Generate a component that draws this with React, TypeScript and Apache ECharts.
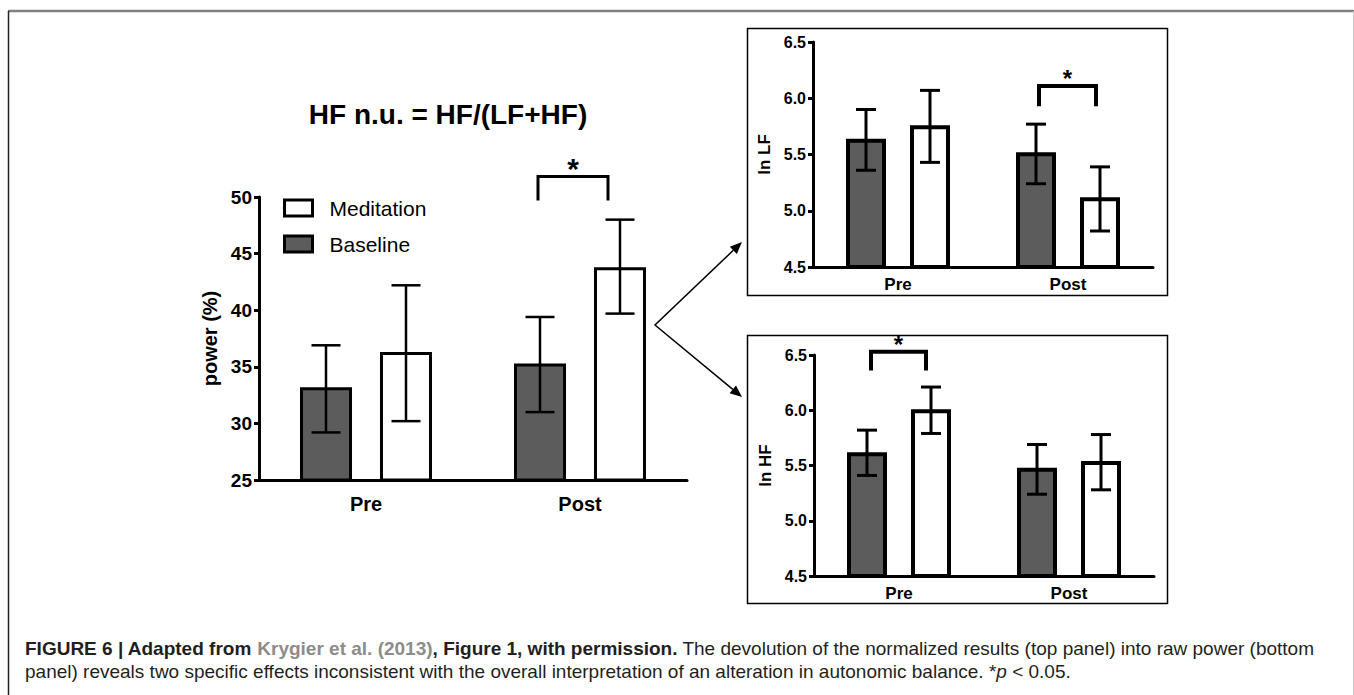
import React, { useEffect, useRef } from "react";
import * as echarts from "echarts";

// ---------- data ----------
const categories = ["Pre", "Post"];

// main panel: HF n.u. (power %)
const hfnuBaseline = [33.2, 35.3];
const hfnuBaselineLow = [29.2, 31.0];
const hfnuBaselineHigh = [36.9, 39.4];
const hfnuMeditation = [36.3, 43.8];
const hfnuMeditationLow = [30.2, 39.7];
const hfnuMeditationHigh = [42.2, 48.0];
const hfnuTicks = [25, 30, 35, 40, 45, 50];
// significance bracket: [category index, bracket top, bracket leg bottom]
const hfnuSig = [[1, 51.8, 49.7]];

// top right panel: ln LF
const lnLfBaseline = [5.64, 5.52];
const lnLfBaselineLow = [5.36, 5.24];
const lnLfBaselineHigh = [5.9, 5.77];
const lnLfMeditation = [5.76, 5.12];
const lnLfMeditationLow = [5.43, 4.82];
const lnLfMeditationHigh = [6.07, 5.39];
const lnLfSig = [[1, 6.11, 5.93]];

// bottom right panel: ln HF
const lnHfBaseline = [5.62, 5.48];
const lnHfBaselineLow = [5.41, 5.24];
const lnHfBaselineHigh = [5.82, 5.69];
const lnHfMeditation = [6.01, 5.54];
const lnHfMeditationLow = [5.79, 5.28];
const lnHfMeditationHigh = [6.21, 5.78];
const lnHfSig = [[0, 6.53, 6.36]];
const lnTicks = ["4.5", "5.0", "5.5", "6.0", "6.5"];

const seriesNames = ["Baseline", "Meditation"];
const legendOrder = ["Meditation", "Baseline"];

const titleText = "HF n.u. = HF/(LF+HF)";

// ---------- helpers ----------
const FONT = "'Liberation Sans', Arial, Helvetica, sans-serif";
const BASE_FILL = "#5c5c5c";

type PanelCfg = {
  grid: number;
  base: number[];
  baseLo: number[];
  baseHi: number[];
  med: number[];
  medLo: number[];
  medHi: number[];
  sig: number[][];
  barWidth: number;
  barGap: string;
  border: number;
  offset: number;
  cap: number;
  errWidth: number;
  sigL: number;
  sigR: number;
  starSize: number;
  starDy: number;
};

function errSeries(cfg: PanelCfg, lo: number[], hi: number[], sign: number) {
  return {
    type: "custom",
    xAxisIndex: cfg.grid,
    yAxisIndex: cfg.grid,
    silent: true,
    clip: false,
    z: 5,
    data: lo.map((l, i) => [i, l, hi[i]]),
    renderItem: (params: any, api: any) => {
      const top = api.coord([api.value(0), api.value(2)]);
      const bot = api.coord([api.value(0), api.value(1)]);
      const x = top[0] + sign * cfg.offset;
      const st = { stroke: "#000", lineWidth: cfg.errWidth };
      return {
        type: "group",
        children: [
          { type: "line", shape: { x1: x, y1: top[1], x2: x, y2: bot[1] }, style: st },
          { type: "line", shape: { x1: x - cfg.cap / 2, y1: top[1], x2: x + cfg.cap / 2, y2: top[1] }, style: st },
          { type: "line", shape: { x1: x - cfg.cap / 2, y1: bot[1], x2: x + cfg.cap / 2, y2: bot[1] }, style: st },
        ],
      };
    },
  };
}

function sigSeries(cfg: PanelCfg) {
  return {
    type: "custom",
    xAxisIndex: cfg.grid,
    yAxisIndex: cfg.grid,
    silent: true,
    clip: false,
    z: 5,
    data: cfg.sig,
    renderItem: (params: any, api: any) => {
      const top = api.coord([api.value(0), api.value(1)]);
      const bot = api.coord([api.value(0), api.value(2)]);
      const xl = top[0] + cfg.sigL;
      const xr = top[0] + cfg.sigR;
      return {
        type: "group",
        children: [
          {
            type: "polyline",
            shape: { points: [[xl, bot[1]], [xl, top[1]], [xr, top[1]], [xr, bot[1]]] },
            style: { stroke: "#000", lineWidth: cfg.border, fill: null },
          },
          {
            type: "text",
            x: (xl + xr) / 2,
            y: top[1] + cfg.starDy,
            style: {
              text: "*",
              fill: "#000",
              font: `bold ${cfg.starSize}px ${FONT}`,
              align: "center",
              verticalAlign: "middle",
            },
          },
        ],
      };
    },
  };
}

function panelSeries(cfg: PanelCfg) {
  const common = {
    type: "bar",
    xAxisIndex: cfg.grid,
    yAxisIndex: cfg.grid,
    barWidth: cfg.barWidth,
    barGap: cfg.barGap,
    silent: true,
  };
  return [
    {
      ...common,
      name: seriesNames[0],
      data: cfg.base,
      itemStyle: { color: BASE_FILL, borderColor: "#000", borderWidth: cfg.border },
    },
    {
      ...common,
      name: seriesNames[1],
      data: cfg.med,
      itemStyle: { color: "#fff", borderColor: "#000", borderWidth: cfg.border },
    },
    errSeries(cfg, cfg.baseLo, cfg.baseHi, -1),
    errSeries(cfg, cfg.medLo, cfg.medHi, 1),
    sigSeries(cfg),
  ];
}

function xAxisCfg(grid: number, fontSize: number, margin: number) {
  return {
    type: "category",
    gridIndex: grid,
    data: categories,
    axisLine: { show: true, lineStyle: { color: "#000", width: 3 } },
    axisTick: { show: false },
    axisLabel: { color: "#000", fontWeight: "bold", fontSize, fontFamily: FONT, margin },
  };
}

function yAxisCfg(
  grid: number,
  min: number,
  max: number,
  interval: number,
  name: string,
  nameSize: number,
  nameGap: number,
  labelSize: number,
  fmt: (v: number) => string
) {
  return {
    type: "value",
    gridIndex: grid,
    min,
    max,
    interval,
    name,
    nameLocation: "middle",
    nameGap,
    nameRotate: 90,
    nameTextStyle: { color: "#000", fontWeight: "bold", fontSize: nameSize, fontFamily: FONT },
    axisLine: { show: true, lineStyle: { color: "#000", width: 3 } },
    axisTick: { show: true, length: 5, lineStyle: { color: "#000", width: 3 } },
    splitLine: { show: false },
    axisLabel: {
      color: "#000",
      fontWeight: "bold",
      fontSize: labelSize,
      fontFamily: FONT,
      margin: 7,
      formatter: fmt,
    },
  };
}

export default function App() {
  const ref = useRef<HTMLDivElement>(null);

  useEffect(() => {
    if (!ref.current) return;
    const chart = echarts.init(ref.current, undefined, { renderer: "svg" });

    const mainCfg: PanelCfg = {
      grid: 0,
      base: hfnuBaseline,
      baseLo: hfnuBaselineLow,
      baseHi: hfnuBaselineHigh,
      med: hfnuMeditation,
      medLo: hfnuMeditationLow,
      medHi: hfnuMeditationHigh,
      sig: hfnuSig,
      barWidth: 52,
      barGap: "53.8%",
      border: 3,
      offset: 40,
      cap: 29,
      errWidth: 2.5,
      sigL: -42,
      sigR: 28,
      starSize: 30,
      starDy: -8,
    };
    const lfCfg: PanelCfg = {
      grid: 1,
      base: lnLfBaseline,
      baseLo: lnLfBaselineLow,
      baseHi: lnLfBaselineHigh,
      med: lnLfMeditation,
      medLo: lnLfMeditationLow,
      medHi: lnLfMeditationHigh,
      sig: lnLfSig,
      barWidth: 40,
      barGap: "60%",
      border: 4,
      offset: 32,
      cap: 20,
      errWidth: 3,
      sigL: -29,
      sigR: 28,
      starSize: 24,
      starDy: -7,
    };
    const hfCfg: PanelCfg = {
      ...lfCfg,
      grid: 2,
      base: lnHfBaseline,
      baseLo: lnHfBaselineLow,
      baseHi: lnHfBaselineHigh,
      med: lnHfMeditation,
      medLo: lnHfMeditationLow,
      medHi: lnHfMeditationHigh,
      sig: lnHfSig,
      sigL: -28,
      sigR: 27,
    };

    const lnFmt = (v: number) => {
      const s = v.toFixed(1);
      return lnTicks.indexOf(s) >= 0 ? s : "";
    };
    const hfFmt = (v: number) => (hfnuTicks.indexOf(v) >= 0 ? String(v) : "");

    const captionText =
      "{b|FIGURE 6 | Adapted from }{g|Krygier et al. (2013)}{b|, Figure 1, with permission.}" +
      "{n| The devolution of the normalized results (top panel) into raw power (bottom}\n" +
      "{n|panel) reveals two specific effects inconsistent with the overall interpretation of an alteration in autonomic balance. *}" +
      "{i|p}{n| < 0.05.}";

    const arrowStyle = { stroke: "#000", lineWidth: 1.5 };
    const CAP_SIZE = 19;

    chart.setOption({
      animation: false,
      backgroundColor: "#fff",
      textStyle: { fontFamily: FONT },
      grid: [
        { left: 259, top: 197, width: 428, height: 283 },
        { left: 813, top: 42, width: 340, height: 225 },
        { left: 814, top: 355, width: 340, height: 221 },
      ],
      legend: {
        data: legendOrder,
        orient: "vertical",
        left: 283,
        top: 197,
        padding: 0,
        itemWidth: 28,
        itemHeight: 16,
        itemGap: 14,
        icon: "rect",
        selectedMode: false,
        itemStyle: { borderColor: "#000", borderWidth: 3 },
        textStyle: {
          color: "#000",
          fontSize: 21,
          fontFamily: FONT,
          lineHeight: 22,
          padding: [0, 0, 0, 12],
        },
      },
      xAxis: [xAxisCfg(0, 20, 14), xAxisCfg(1, 17, 9), xAxisCfg(2, 17, 9)],
      yAxis: [
        yAxisCfg(0, 25, 50, 5, "power (%)", 20, 39, 19, hfFmt),
        yAxisCfg(1, 4.5, 6.5, 0.5, "ln LF", 17, 40, 16, lnFmt),
        yAxisCfg(2, 4.5, 6.5, 0.5, "ln HF", 17, 40, 16, lnFmt),
      ],
      series: [...panelSeries(mainCfg), ...panelSeries(lfCfg), ...panelSeries(hfCfg)],
      graphic: [
        // outer figure frame
        { type: "line", shape: { x1: 8, y1: 11, x2: 1354, y2: 11 }, style: { stroke: "#808080", lineWidth: 2.5 } },
        { type: "line", shape: { x1: 8.5, y1: 11, x2: 8.5, y2: 695 }, style: { stroke: "#222", lineWidth: 1.5 } },
        { type: "line", shape: { x1: 1353.5, y1: 11, x2: 1353.5, y2: 695 }, style: { stroke: "#c8c8c8", lineWidth: 1 } },
        // panel boxes
        { type: "rect", shape: { x: 747.5, y: 28.5, width: 420, height: 267 }, style: { stroke: "#000", lineWidth: 1.5, fill: null } },
        { type: "rect", shape: { x: 747.5, y: 335.5, width: 420, height: 268 }, style: { stroke: "#000", lineWidth: 1.5, fill: null } },
        // title
        {
          type: "text",
          x: 448,
          y: 114,
          style: {
            text: titleText,
            font: `bold 28px ${FONT}`,
            fill: "#000",
            align: "center",
            verticalAlign: "middle",
          },
        },
        // arrows
        { type: "polyline", shape: { points: [[733.3, 250.3], [655, 325], [732.8, 389.4]] }, style: { ...arrowStyle, fill: null } },
        { type: "polygon", shape: { points: [[742, 242], [736.8, 253.9], [729.8, 246.7]] }, style: { fill: "#000" } },
        { type: "polygon", shape: { points: [[742, 397], [729.6, 393.2], [736, 385.5]] }, style: { fill: "#000" } },
        // caption
        {
          type: "text",
          x: 25,
          y: 637,
          style: {
            text: captionText,
            fill: "#231f20",
            rich: {
              b: { font: `bold ${CAP_SIZE}px ${FONT}`, fill: "#231f20", lineHeight: 23 },
              g: { font: `bold ${CAP_SIZE}px ${FONT}`, fill: "#8c8c8c", lineHeight: 23 },
              n: { font: `${CAP_SIZE}px ${FONT}`, fill: "#231f20", lineHeight: 23 },
              i: { font: `italic ${CAP_SIZE}px ${FONT}`, fill: "#231f20", lineHeight: 23 },
            },
          },
        },
      ],
    });

    return () => chart.dispose();
  }, []);

  return (
    <div
      ref={ref}
      style={{ position: "absolute", left: 0, top: 0, width: 1354, height: 695 }}
    />
  );
}
